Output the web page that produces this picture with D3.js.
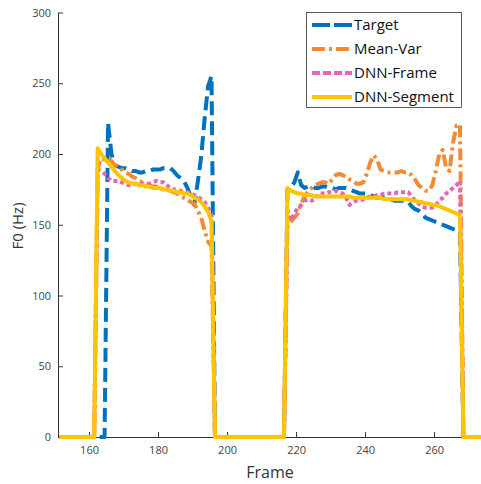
<!DOCTYPE html>
<html>
<head>
<meta charset="utf-8">
<script src="https://cdn.jsdelivr.net/npm/d3@7"></script>
<style>
  body { margin: 0; background: #fff; }
  text { font-family: "Open Sans", "Noto Sans", sans-serif; }
</style>
</head>
<body>
<div class="chart"></div>
<script>
// frame index for every sample below (151..274)
const frames = d3.range(151, 275);

const target = [
  0,0,0,0,0,0,0,0,0,0,
  0,0,0,0,222,200,192,191,190,190,
  189,188,188,187,187,188,188,189,189,189,
  190,190,190,188,185,183,181,176,170,164,
  180,198,225,248,255,0,0,0,0,0,
  0,0,0,0,0,0,0,0,0,0,
  0,0,0,0,0,0,175,176,180,187,
  178,176,177,177,176,176,177,177,176,176,
  175,176,176,176,175,174,173,172,172,172,
  171,170,169,169,169,168,168,167,167,167,
  167,166,163,161,160,158,155,154,153,152,
  151,150,149,148,147,146,145,0,0,0,
  0,0,0,0
];

const meanVar = [
  0,0,0,0,0,0,0,0,0,0,
  0,190,197,196,197,195,192,190,189,187,
  186,184,183,181,180,179,178,177,177,176,
  175,175,174,173,172,171,169,168,166,165,
  160,155,146,138,135,0,0,0,0,0,
  0,0,0,0,0,0,0,0,0,0,
  0,0,0,0,0,0,148,152,155,158,
  165,170,174,176,178,179,180,180,179,182,
  185,186,185,184,182,181,179,179,180,186,
  194,199,196,189,188,187,187,187,187,188,
  187,187,185,182,178,176,174,174,178,188,
  200,203,190,188,208,220,221,0,0,0,
  0,0,0,0
];

const dnnFrame = [
  0,0,0,0,0,0,0,0,0,0,
  0,189,188,186,183,181,181,181,180,179,
  178,178,179,179,179,179,179,180,181,180,
  180,178,176,175,175,174,173,173,172,171,
  170,168,166,162,158,0,0,0,0,0,
  0,0,0,0,0,0,0,0,0,0,
  0,0,0,0,0,0,160,153,158,162,
  164,167,168,167,168,172,172,172,173,173,
  174,173,172,169,164,166,167,167,168,169,
  170,170,171,171,172,172,172,172,173,173,
  173,173,170,167,165,163,162,162,162,164,
  167,169,172,174,176,178,181,0,0,0,
  0,0,0,0
];

const dnnSegment = [
  0,0,0,0,0,0,0,0,0,0,
  0,204,200,197,194,191,188,185,183,181,
  180,179,179,178,178,177,177,176,176,176,
  175,175,174,174,173,173,172,172,171,169,
  168,166,163,159,153,0,0,0,0,0,
  0,0,0,0,0,0,0,0,0,0,
  0,0,0,0,0,0,176,174,173,172,
  172,171,171,171,170,170,170,170,170,170,
  170,170,170,170,170,169,169,169,169,169,
  169,169,169,169,168,168,168,168,168,168,
  168,168,167,167,166,166,165,165,164,164,
  163,162,161,160,159,158,157,0,0,0,
  0,0,0,0
];

const seriesNames = ["Target", "Mean-Var", "DNN-Frame", "DNN-Segment"];
const xTicks = [160, 180, 200, 220, 240, 260];
const yTicks = [0, 50, 100, 150, 200, 250, 300];

const styles = [
  { color: "#0072BD", dash: "14,6", legendDash: "18,4" },
  { color: "#F28A36", dash: "12,4,3,4", legendDash: "13,4,3,4" },
  { color: "#E068B8", dash: "4,3", legendDash: "8,3" },
  { color: "#FFC400", dash: null, legendDash: null }
];

const W = 481, H = 484;
const axisColor = "#333";

const svg = d3.select(".chart").append("svg")
  .attr("width", W)
  .attr("height", H);

const x = d3.scaleLinear().domain([151, 273.6]).range([58, 481]);
const y = d3.scaleLinear().domain([0, 300]).range([437, 12.5]);

svg.append("clipPath").attr("id", "plot")
  .append("rect")
  .attr("x", 58).attr("y", 0)
  .attr("width", W - 58).attr("height", 440);

// axes
const yAxis = svg.append("g")
  .attr("transform", "translate(58,0)")
  .call(d3.axisLeft(y).tickValues(yTicks).tickSizeInner(-5).tickSizeOuter(0).tickPadding(7));
const xAxis = svg.append("g")
  .attr("transform", "translate(0,437)")
  .call(d3.axisBottom(x).tickValues(xTicks).tickSizeInner(-5).tickSizeOuter(0).tickPadding(9));

[xAxis, yAxis].forEach(g => {
  g.select(".domain").attr("stroke", axisColor).attr("stroke-width", 1);
  g.selectAll(".tick line").attr("stroke", axisColor);
  g.selectAll(".tick text")
    .attr("fill", "#444")
    .style("font-size", "11px")
    .style("font-family", "'Open Sans', sans-serif");
});

svg.append("text")
  .attr("x", 270).attr("y", 478)
  .attr("text-anchor", "middle")
  .attr("fill", "#333")
  .style("font-size", "16px")
  .text("Frame");

svg.append("text")
  .attr("transform", "translate(23,226) rotate(-90)")
  .attr("text-anchor", "middle")
  .attr("fill", "#333")
  .style("font-size", "15px")
  .text("F0 (Hz)");

// lines (each sample sits in the middle of its frame)
const allSeries = [target, meanVar, dnnFrame, dnnSegment];
const line = d3.line()
  .x((d, i) => x(frames[i] + 0.5))
  .y(d => y(d));

const plot = svg.append("g").attr("clip-path", "url(#plot)");
allSeries.forEach((vals, k) => {
  plot.append("path")
    .datum(vals)
    .attr("d", line)
    .attr("fill", "none")
    .attr("stroke", styles[k].color)
    .attr("stroke-width", 4)
    .attr("stroke-linejoin", "round")
    .attr("stroke-dasharray", styles[k].dash);
});

// legend
const legend = svg.append("g");
legend.append("rect")
  .attr("x", 306.5).attr("y", 12.5)
  .attr("width", 155).attr("height", 95)
  .attr("fill", "#fff")
  .attr("stroke", "#333")
  .attr("stroke-width", 0.8);

seriesNames.forEach((name, k) => {
  const ly = 25 + k * 24;
  legend.append("line")
    .attr("x1", 312).attr("x2", 352)
    .attr("y1", ly).attr("y2", ly)
    .attr("stroke", styles[k].color)
    .attr("stroke-width", 4)
    .attr("stroke-dasharray", styles[k].legendDash);
  legend.append("text")
    .attr("x", 354).attr("y", ly)
    .attr("dy", "0.35em")
    .attr("fill", "#111")
    .style("font-size", "15px")
    .text(name);
});
</script>
</body>
</html>
